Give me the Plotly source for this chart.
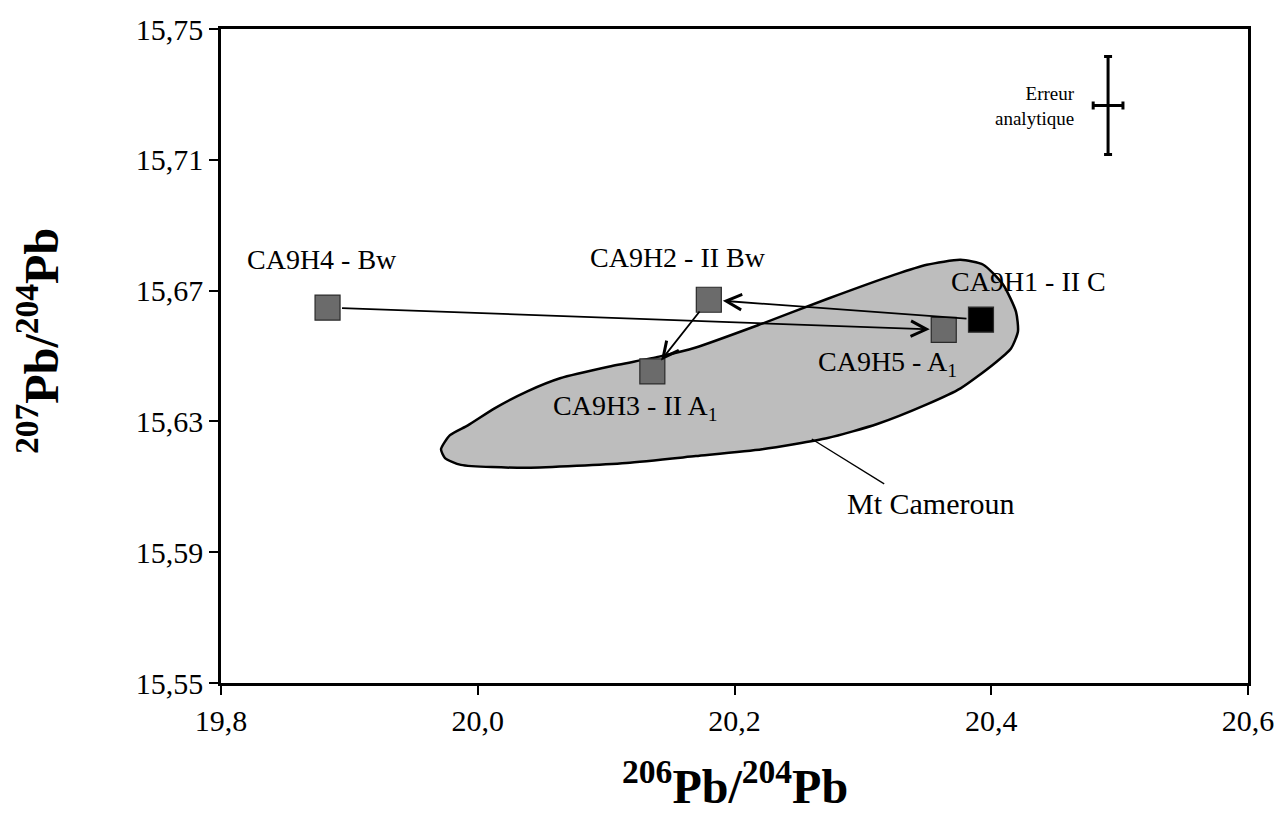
import plotly.graph_objects as go

# Pb isotope ratios of the CA9 soil profile horizons
samples = ["CA9H1 - II C", "CA9H2 - II Bw", "CA9H3 - II A<sub>1</sub>",
           "CA9H4 - Bw", "CA9H5 - A<sub>1</sub>"]
pb206_204 = [20.392, 20.180, 20.136, 19.883, 20.363]
pb207_204 = [15.6611, 15.6672, 15.6453, 15.6648, 15.6580]

# Mt Cameroun lava field envelope
field_x = [19.9714, 19.9784, 19.9923, 20.0131, 20.0386, 20.0641, 20.1027, 20.1413,
           20.1699, 20.2216, 20.2726, 20.3243, 20.3498, 20.3761, 20.3938, 20.4093,
           20.4193, 20.4208, 20.4154, 20.4015, 20.3761, 20.3498, 20.3112, 20.2726,
           20.2216, 20.1699, 20.1158, 20.0386, 19.9869, 19.9745, 19.9714]
field_y = [15.6215, 15.6258, 15.6288, 15.6340, 15.6392, 15.6432, 15.6468, 15.6498,
           15.6526, 15.6599, 15.6675, 15.6748, 15.6779, 15.6794, 15.6779, 15.6718,
           15.6635, 15.6575, 15.6523, 15.6474, 15.6401, 15.6352, 15.6292, 15.6249,
           15.6215, 15.6194, 15.6173, 15.6158, 15.6167, 15.6188, 15.6215]
field_name = "Mt Cameroun"
pointer_x = [20.2602, 20.3166]
pointer_y = [15.6246, 15.6109]

# analytical error (2 sigma)
err_center = (20.491, 15.7266)
err_x = 0.0116
err_y = 0.015

# evolution arrows: (from sample index, to sample index)
arrows = [(3, 4), (0, 1), (1, 2)]

x_ticks = [19.8, 20.0, 20.2, 20.4, 20.6]
x_ticktext = ["19,8", "20,0", "20,2", "20,4", "20,6"]
y_ticks = [15.55, 15.59, 15.63, 15.67, 15.71, 15.75]
y_ticktext = ["15,55", "15,59", "15,63", "15,67", "15,71", "15,75"]

FONT = "Liberation Serif, Times New Roman, serif"

fig = go.Figure()

fig.add_trace(go.Scatter(
    x=field_x, y=field_y, mode="lines", fill="toself",
    fillcolor="#bdbdbd", line=dict(color="black", width=2.5, shape="spline", smoothing=0.6),
    hoverinfo="skip", showlegend=False))

fig.add_trace(go.Scatter(
    x=pointer_x, y=pointer_y, mode="lines",
    line=dict(color="black", width=1.3), hoverinfo="skip", showlegend=False))

fig.add_trace(go.Scatter(
    x=[err_center[0]], y=[err_center[1]], mode="markers",
    marker=dict(size=1, color="rgba(0,0,0,0)"),
    error_x=dict(type="constant", value=err_x, thickness=3, width=4, color="black"),
    error_y=dict(type="constant", value=err_y, thickness=3, width=4, color="black"),
    hoverinfo="skip", showlegend=False))

# evolution arrows between horizons
for a, b in arrows:
    fig.add_annotation(
        x=pb206_204[b], y=pb207_204[b], ax=pb206_204[a], ay=pb207_204[a],
        xref="x", yref="y", axref="x", ayref="y", text="",
        showarrow=True, arrowhead=5, arrowsize=1.7, arrowwidth=1.8,
        arrowcolor="black", standoff=14, startstandoff=13)

colors = ["black", "#6b6b6b", "#6b6b6b", "#6b6b6b", "#6b6b6b"]
fig.add_trace(go.Scatter(
    x=pb206_204, y=pb207_204, mode="markers",
    marker=dict(symbol="square", size=25, color=colors,
                line=dict(color="#2a2a2a", width=1.2)),
    text=samples, hoverinfo="text", showlegend=False))

# sample labels, offset from their points (pixels)
label_shift = [(48, 38), (-31, 42), (-17, -36), (-6, 48), (-56, -34)]
for name, x, y, (dx, dy) in zip(samples, pb206_204, pb207_204, label_shift):
    fig.add_annotation(x=x, y=y, xref="x", yref="y", text=name, showarrow=False,
                       xshift=dx, yshift=dy,
                       font=dict(family=FONT, size=28, color="black"))

fig.add_annotation(x=pointer_x[1], y=pointer_y[1], xref="x", yref="y",
                   text=field_name, showarrow=False, xanchor="center", yanchor="top",
                   xshift=46, yshift=-1,
                   font=dict(family=FONT, size=30, color="black"))

fig.add_annotation(x=err_center[0], y=err_center[1], xref="x", yref="y",
                   text="Erreur<br>analytique", showarrow=False, align="right",
                   xanchor="right", yanchor="middle", xshift=-31,
                   font=dict(family=FONT, size=19, color="black"))

# axis titles
fig.add_annotation(x=0.5, y=0, xref="paper", yref="paper",
                   text="<b><sup>206</sup>Pb/<sup>204</sup>Pb</b>", showarrow=False,
                   xanchor="center", yanchor="middle", yshift=-100,
                   font=dict(family=FONT, size=48, color="black"))
fig.add_annotation(x=0, y=0.5, xref="paper", yref="paper",
                   text="<b><sup>207</sup>Pb/<sup>204</sup>Pb</b>", showarrow=False,
                   textangle=-90, xanchor="center", yanchor="middle",
                   xshift=-183, yshift=15,
                   font=dict(family=FONT, size=48, color="black"))

axis_common = dict(showgrid=False, zeroline=False, showline=True, linecolor="black",
                   linewidth=2.5, mirror=True, ticks="outside", ticklen=9,
                   tickwidth=2, tickcolor="black",
                   tickfont=dict(family=FONT, size=30, color="black"))

fig.update_xaxes(range=[19.8, 20.6], tickvals=x_ticks, ticktext=x_ticktext, **axis_common)
fig.update_yaxes(range=[15.55, 15.75], tickvals=y_ticks, ticktext=y_ticktext, **axis_common)

fig.update_layout(
    width=1286, height=816,
    margin=dict(l=221, r=29, t=26, b=133),
    plot_bgcolor="white", paper_bgcolor="white",
    font=dict(family=FONT, color="black"),
)

fig.write_html("out.html")
